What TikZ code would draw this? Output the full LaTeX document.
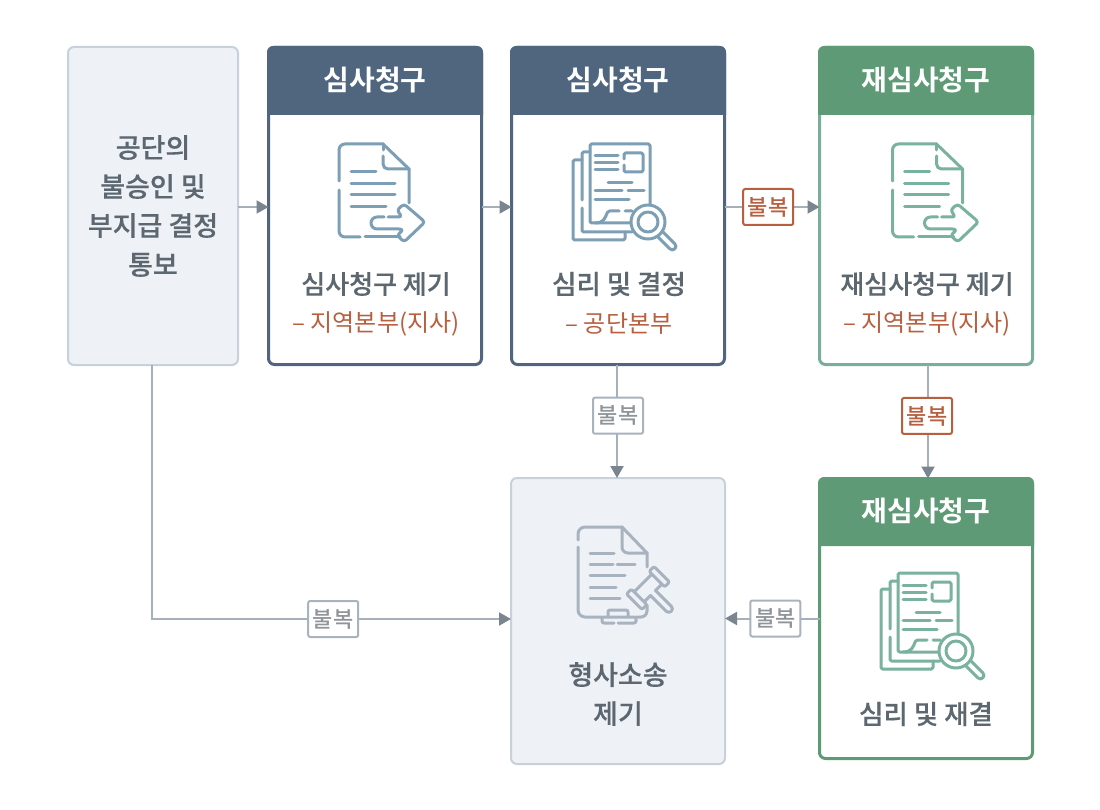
\documentclass[tikz,border=0pt]{standalone}
\usepackage{fontspec}
\setmainfont{Noto Sans CJK KR Medium}[BoldFont=Noto Sans CJK KR Bold]
\newfontfamily\strongfont{Noto Sans CJK KR Medium}[FakeBold=0.35]
\newfontfamily\regfont{Noto Sans CJK KR}
\usetikzlibrary{arrows.meta}
\definecolor{navy}{HTML}{50667E}
\definecolor{greenhead}{HTML}{5E9A76}
\definecolor{greenline}{HTML}{78AE9A}
\definecolor{paleface}{HTML}{EEF2F7}
\definecolor{paleline}{HTML}{C6D1DC}
\definecolor{bodytext}{HTML}{5C6770}
\definecolor{redtext}{HTML}{B85F3F}
\definecolor{flow}{HTML}{A6B0BA}
\definecolor{flowtip}{HTML}{7A858F}
\definecolor{iconblue}{HTML}{7D9FB5}
\definecolor{icongreen}{HTML}{79B29D}
\definecolor{icongrey}{HTML}{A9B3BF}
\definecolor{graytext}{HTML}{8F9499}
\tikzset{
  x=1pt,y=-1pt,
  paper/.style={draw,rounded corners=6pt,inner sep=0pt,outer sep=0pt,anchor=north west},
  palebox/.style={paper,fill=paleface,draw=paleline,line width=2pt},
  navybox/.style={paper,fill=white,draw=navy,line width=3pt},
  greenbox/.style={paper,fill=white,draw=#1,line width=3pt},
  headtext/.style={text=white,font=\fontsize{28}{30}\bfseries\selectfont},
  maintext/.style={text=bodytext,align=center,font=\strongfont\fontsize{27}{39}\selectfont},
  rowtext/.style={text=bodytext,font=\strongfont\fontsize{26.5}{30}\selectfont},
  widetext/.style={text=bodytext,font=\strongfont\fontsize{26}{30}\selectfont},
  subtext/.style={text=redtext,font=\regfont\fontsize{24}{30}\selectfont},
  flowline/.style={draw=flow,line width=2pt},
  flowarrow/.style={flowline,-{Triangle[length=12pt,width=13pt,color=flowtip]}},
  tagbase/.style={fill=white,rounded corners=2pt,minimum width=50pt,minimum height=36pt,inner sep=0pt,line width=2pt,font=\fontsize{22}{24}\selectfont},
  redtag/.style={tagbase,draw=redtext,text=redtext},
  greytag/.style={tagbase,draw=icongrey,text=graytext},
  iconline/.style={line width=3pt,line cap=round,line join=round},
  pics/docarrow/.style={code={
    \begin{scope}[iconline]
    \draw[rounded corners=6pt] (0,37)--(0,0)--(44,0);
    \draw (44,0)--(70,25)--(70,59);
    \draw (44,0)--(44,6);
    \draw[rounded corners=5pt] (44,12)--(44,25)--(70,25);
    \draw (12,28)--(37,28) (12,40)--(56,40) (12,51)--(56,51) (12,63)--(47,63);
    \draw[rounded corners=6pt] (0,46)--(0,93)--(21,93);
    \draw (26,93)--(61,93);
    \draw[rounded corners=6pt] (45,73)--(32,73)--(32,85)--(66,85) [rounded corners=3pt] --(58,91)--(65,98)--(86,78)--(65,60)--(58,66)--(63,73)--(49,73);
    \end{scope}}},
  pics/docsearch/.style={code={
    \begin{scope}[iconline,rounded corners=1.5pt]
    \draw (60,61)--(60,0)--(0,0)--(0,79)--(42,79);
    \draw (0,8)--(-8,8)--(-8,56);
    \draw (-8,64)--(-8,88)--(42,88);
    \draw (-8,16)--(-17,16)--(-17,96)--(35,96)--(35,88);
    \draw (5,12)--(28,12) (5,19)--(28,19) (5,26)--(28,26);
    \draw (34,15)--(34,9)--(53,9)--(53,28)--(34,28)--(34,21);
    \draw (18,39)--(42,39) (5,47)--(32,47) (38,47)--(54,47) (5,56)--(39,56);
    \draw (5,79) .. controls (14,79) and (15,74) .. (18,67)--(29,67) (35,67)--(42,67);
    \end{scope}
    \fill[white] (58,78) circle (18pt);
    \begin{scope}[iconline]
    \draw (58,78) circle (17pt);
    \draw (58,78) circle (10pt);
    \begin{scope}[shift={(58,78)},x={(0.707pt,-0.707pt)},y={(0.707pt,0.707pt)}]
    \draw[rounded corners=3.5pt] (18,-3.5)--(38,-3.5)--(38,3.5)--(18,3.5);
    \end{scope}
    \end{scope}}},
  pics/docgavel/.style={code={
    \begin{scope}[iconline]
    \draw[rounded corners=7pt] (0,13)--(0,0)--(44,0);
    \draw (44,0)--(69,26)--(69,40);
    \draw[rounded corners=6pt] (44,0)--(44,26)--(69,26);
    \draw[rounded corners=7pt] (0,20)--(0,90)--(24,90);
    \draw[rounded corners=6pt] (58,90)--(69,90)--(69,78);
    \draw (12,26)--(36,26) (12,37)--(35,37) (39,37)--(57,37) (12,48)--(47,48) (12,60)--(38,60) (12,71)--(42,71);
    \draw[rounded corners=2pt] (30,90)--(30,83)--(50,83)--(50,90);
    \draw[rounded corners=2pt] (36,96)--(24,96)--(24,90)--(58,90)--(58,96)--(40,96);
    \begin{scope}[shift={(70,61)},x={(0.707pt,-0.707pt)},y={(0.707pt,0.707pt)}]
    \draw[rounded corners=2pt] (-11,12.5)--(11,12.5)--(11,19.5)--(-11,19.5)--cycle;
    \draw[rounded corners=2pt] (-11,-19.5)--(11,-19.5)--(11,-12.5)--(-11,-12.5)--cycle;
    \draw (-7,-12.5)--(-7,12.5) (7,-12.5)--(7,-3.5) (7,3.5)--(7,12.5);
    \draw[rounded corners=3.5pt] (7,-3.5)--(33,-3.5)--(33,3.5)--(7,3.5);
    \end{scope}
    \end{scope}}}
}
\begin{document}
\begin{tikzpicture}
\useasboundingbox (0,0) rectangle (1100,810);
\fill[white] (0,0) rectangle (1100,810);

% boxes
\node[palebox,minimum width=170pt,minimum height=318pt] (notice) at (68,47) {};
\node[navybox,minimum width=213pt,minimum height=317pt] (claimA) at (268.5,47.5) {};
\node[navybox,minimum width=213pt,minimum height=317pt] (claimB) at (511.5,47.5) {};
\node[greenbox=greenline,minimum width=213pt,minimum height=317pt] (reA) at (819.5,47.5) {};
\node[palebox,minimum width=214pt,minimum height=286pt] (suit) at (511,478) {};
\node[greenbox=greenhead,minimum width=213pt,minimum height=280pt] (reB) at (819.5,478.5) {};

% headers
\fill[navy,rounded corners=6pt] (267,115)--(267,46)--(483,46) [sharp corners] --(483,115)--cycle;
\fill[navy,rounded corners=6pt] (510,115)--(510,46)--(726,46) [sharp corners] --(726,115)--cycle;
\fill[greenhead,rounded corners=6pt] (818,115)--(818,46)--(1034,46) [sharp corners] --(1034,115)--cycle;
\fill[greenhead,rounded corners=6pt] (818,546)--(818,477)--(1034,477) [sharp corners] --(1034,546)--cycle;

\node[headtext] (hA) at (375,80) {심사청구};
\node[headtext] (hB) at (618,80) {심사청구};
\node[headtext] (hC) at (926,80) {재심사청구};
\node[headtext] (hD) at (926,511) {재심사청구};

% icons
\pic[color=iconblue] at (339,144) {docarrow};
\pic[color=iconblue] at (590,144) {docsearch};
\pic[color=icongreen] at (892.5,144) {docarrow};
\pic[color=icongreen] at (898,573) {docsearch};
\pic[color=icongrey] at (578,527) {docgavel};

% texts
\node[maintext] (tNotice) at (153,206) {공단의\\불승인 및\\부지급 결정\\통보};
\node[widetext] (tA) at (376,284) {심사청구 제기};
\node[subtext] (sA) at (376,324) {– 지역본부(지사)};
\node[rowtext] (tB) at (619,284) {심리 및 결정};
\node[subtext] (sB) at (619,324) {– 공단본부};
\node[widetext] (tC) at (927,284) {재심사청구 제기};
\node[subtext] (sC) at (927,324) {– 지역본부(지사)};
\node[maintext] (tD) at (618,694) {형사소송\\제기};
\node[rowtext] (tE) at (926,714) {심리 및 재결};

% connectors
\draw[flowarrow] ([yshift=-1pt]notice.east)--([yshift=-1pt]claimA.west);
\draw[flowarrow] ([yshift=-1pt]claimA.east)--([yshift=-1pt]claimB.west);
\draw[flowarrow] ([yshift=-1pt]claimB.east)--([yshift=-1pt]reA.west) node[redtag,pos=0.46] (t1) {불복};
\draw[flowarrow] ([xshift=-1pt]claimB.south)--([xshift=-1pt]suit.north) node[greytag,pos=0.451,xshift=1pt] (t2) {불복};
\draw[flowarrow] ([xshift=2pt]reA.south)--([xshift=2pt]reB.north) node[redtag,pos=0.451,xshift=-1pt] (t3) {불복};
\draw[flowarrow] (reB.west)--(suit.east|-reB.west) node[greytag,pos=0.457,xshift=-1pt] (t4) {불복};
\draw[flowarrow] ([xshift=-1pt]notice.south)|-([yshift=2pt]suit.west) node[greytag,pos=0.751,xshift=1pt] (t5) {불복};
\end{tikzpicture}
\end{document}
